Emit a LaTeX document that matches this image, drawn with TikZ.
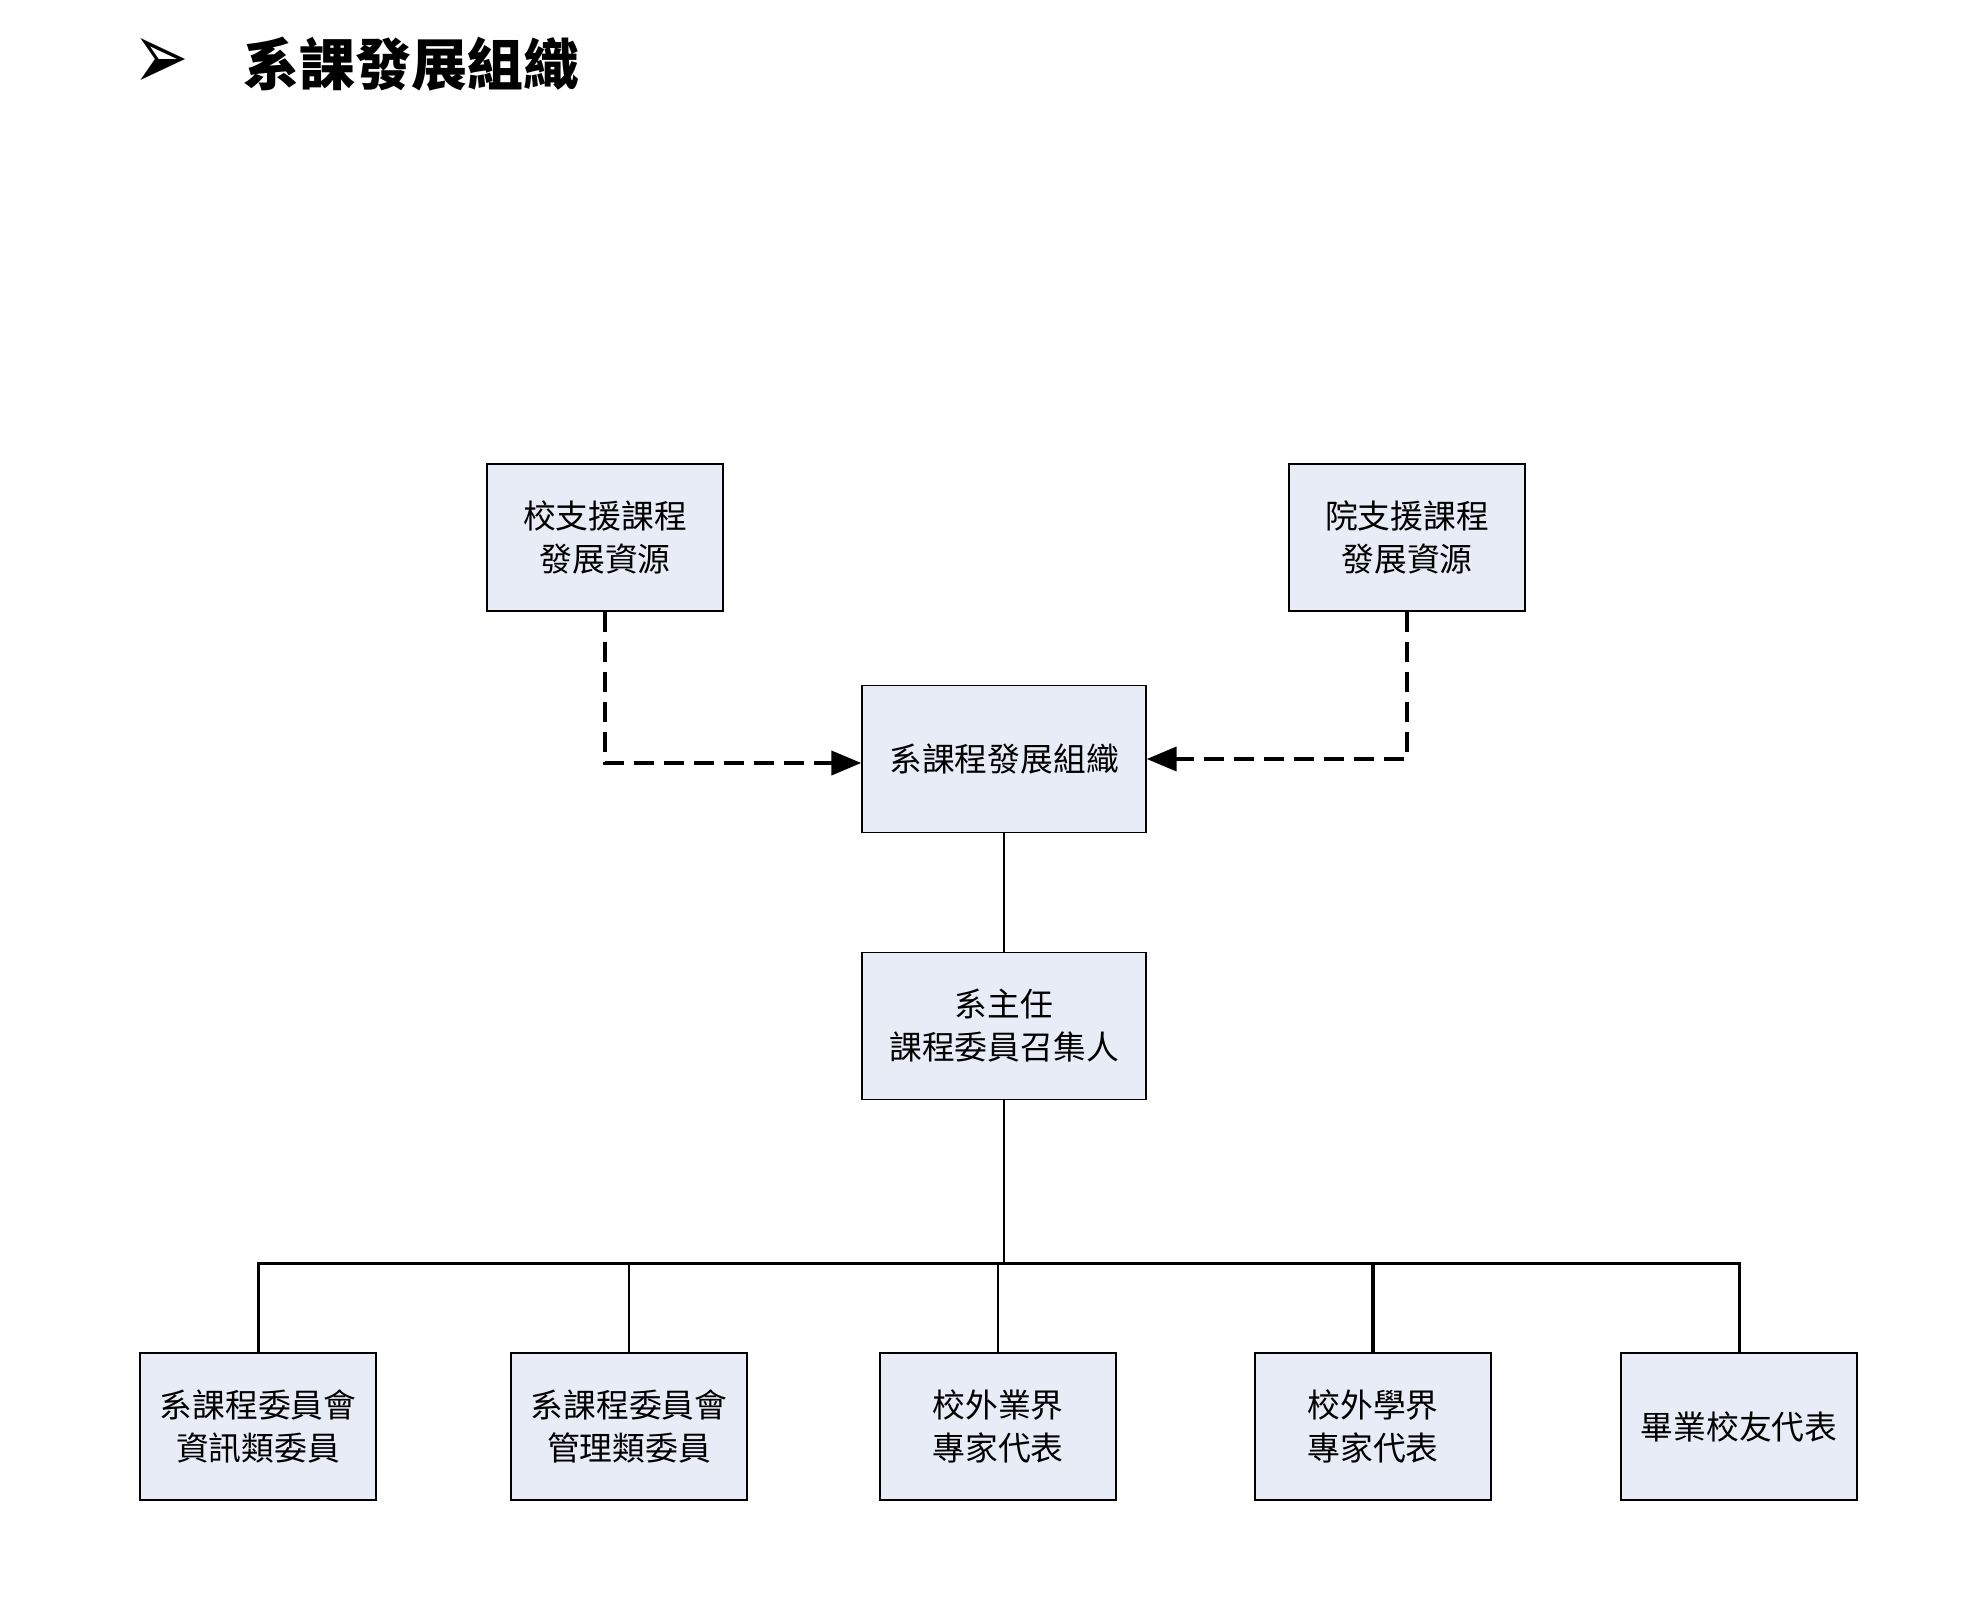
\documentclass[tikz,border=0pt]{standalone}
\usepackage{fontspec}
\newfontfamily\cjk{Noto Sans CJK TC}
\newfontfamily\dingfont{DejaVu Sans}
\usetikzlibrary{arrows.meta}
\definecolor{boxfill}{RGB}{231,236,246}
\tikzset{
  unit/.style={draw=black,line width=.7pt,fill=boxfill,minimum width=118pt,minimum height=73.5pt,
    align=center,inner sep=0pt,font=\cjk\fontsize{16.4}{21.5}\selectfont},
  wideunit/.style={unit,minimum width=142pt},
  support/.style={line width=2pt,dash pattern=on 10pt off 5pt,-{Triangle[length=15pt,width=12pt]}},
  link/.style={line width=1pt},
}
\begin{document}
\begin{tikzpicture}[x=.5pt,y=-.5pt]
\useasboundingbox (0,0) rectangle (1972,1611);
% title
\node[inner sep=0pt,yscale=1.45,transform shape,font=\dingfont\fontsize{33}{33}\selectfont] (bullet) at (161,64) {➢};
\node[anchor=west,inner sep=0pt,font=\cjk\bfseries\fontsize{28}{28}\selectfont] (title) at (243,64) {系課發展組織};
% resources and department
\node[unit] (school) at (605,537.5) {校支援課程\\發展資源};
\node[unit] (college) at (1407,537.5) {院支援課程\\發展資源};
\node[wideunit] (dept) at (1004,759) {系課程發展組織};
\node[wideunit] (chair) at (1004,1026) {系主任\\課程委員召集人};
% members
\foreach \x/\txt [count=\i] in {258/{系課程委員會\\資訊類委員},629/{系課程委員會\\管理類委員},
    998/{校外業界\\專家代表},1373/{校外學界\\專家代表},1739/{畢業校友代表}}{
  \node[unit] (mem\i) at (\x,1426.5) {\txt};
}
\draw[support] (school.south) |- ([yshift=-2pt]dept.west);
\draw[support] (college.south) |- (dept.east);
\draw[link] (dept.south) -- (chair.north);
\coordinate (bus) at (0,1263);
\draw[link,line width=1.5pt] (mem1.north) -- (mem1.north |- bus) -- (mem5.north |- bus) -- (mem5.north);
\draw[link] (chair.south) -- (chair.south |- bus);
\foreach \i/\w in {2/1pt,3/1pt,4/1.6pt}{
  \draw[link,line width=\w] (mem\i.north) -- (mem\i.north |- bus);
}
\end{tikzpicture}
\end{document}
